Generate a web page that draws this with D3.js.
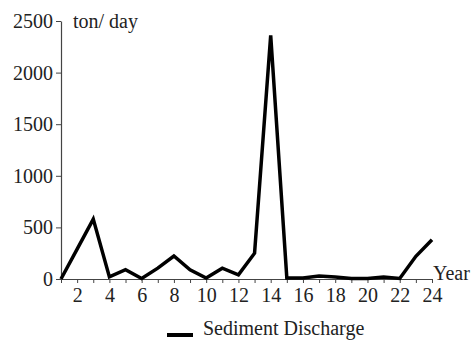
<!DOCTYPE html>
<html>
<head>
<meta charset="utf-8">
<script src="https://cdn.jsdelivr.net/npm/d3@7"></script>
<style>
  body { margin: 0; background: #fff; }
  text { font-family: "Liberation Serif", "Times New Roman", serif; fill: #222; }
</style>
</head>
<body>
<div id="chart"></div>
<script>
const years = d3.range(1, 25);
const discharge = [0, 290, 580, 20, 90, 5, 105, 223, 90, 10, 105, 40, 250, 2360,
                   10, 10, 30, 20, 5, 5, 20, 5, 220, 380];
const yTicks = [0, 500, 1000, 1500, 2000, 2500];
const seriesName = 'Sediment Discharge';

const svgWidth = 475;
const svgHeight = 340;

const svg = d3.select('#chart')
              .append('svg')
              .attr('width', svgWidth)
              .attr('height', svgHeight);

const x = d3.scaleLinear().domain([1, 24]).range([61, 432]);
const y = d3.scaleLinear().domain([0, 2500]).range([279, 21]);

const xAxis = svg.append('g')
                 .attr('transform', `translate(0,${y(0)})`)
                 .call(d3.axisBottom(x)
                         .tickValues(years)
                         .tickSize(4)
                         .tickSizeOuter(0)
                         .tickPadding(5)
                         .tickFormat(d => d % 2 === 0 ? d : ''));

const yAxis = svg.append('g')
                 .attr('transform', `translate(${x(1)},0)`)
                 .call(d3.axisLeft(y)
                         .tickValues(yTicks)
                         .tickSize(5)
                         .tickSizeOuter(0)
                         .tickPadding(3)
                         .tickFormat(d3.format('d')));

[xAxis, yAxis].forEach(ax => {
    ax.attr('font-family', '"Liberation Serif", serif')
      .attr('font-size', 20);
    ax.select('.domain').attr('stroke', '#444').attr('stroke-width', 1.2);
    ax.selectAll('.tick line').attr('stroke', '#444');
    ax.selectAll('.tick text').attr('fill', '#222');
});

svg.append('text')
   .attr('x', 73)
   .attr('y', 28)
   .style('font-size', '20px')
   .text('ton/ day');

svg.append('text')
   .attr('x', 433)
   .attr('y', 280)
   .style('font-size', '20px')
   .text('Year');

const line = d3.line()
               .x((d, i) => x(years[i]))
               .y(d => y(d));

svg.append('path')
   .datum(discharge)
   .attr('fill', 'none')
   .attr('stroke', '#000')
   .attr('stroke-width', 3.5)
   .attr('stroke-linejoin', 'miter')
   .attr('d', line);

const legend = svg.append('g').attr('transform', 'translate(167,335)');

legend.append('line')
      .attr('x1', 0)
      .attr('x2', 26)
      .attr('y1', 0)
      .attr('y2', 0)
      .attr('stroke', '#000')
      .attr('stroke-width', 4);

legend.append('text')
      .attr('x', 36)
      .attr('y', 0)
      .style('font-size', '20px')
      .text(seriesName);
</script>
</body>
</html>
